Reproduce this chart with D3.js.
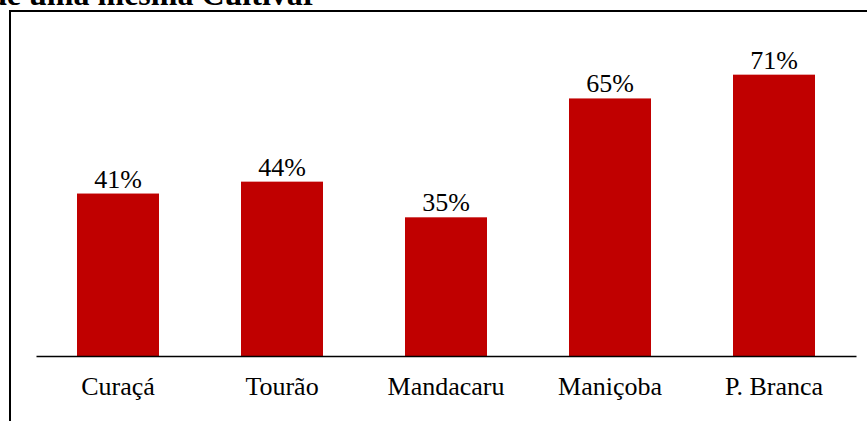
<!DOCTYPE html>
<html>
<head>
<meta charset="utf-8">
<script src="https://cdn.jsdelivr.net/npm/d3@7"></script>
<style>
  body { margin: 0; background: #fff; }
</style>
</head>
<body>
<svg id="canvas" width="867" height="421"></svg>
<script>
var categories = ['Curaçá', 'Tourão', 'Mandacaru', 'Maniçoba', 'P. Branca'];
var values = [41, 44, 35, 65, 71];
var valueLabels = ['41%', '44%', '35%', '65%', '71%'];

var serif = '"Liberation Serif", "Times New Roman", Times, serif';

var svg = d3.select('#canvas');

// frame around the chart area
svg.append('rect')
    .attr('x', 10)
    .attr('y', 11)
    .attr('width', 870)
    .attr('height', 420)
    .attr('fill', 'none')
    .attr('stroke', '#000')
    .attr('stroke-width', 2);

// title, cut off at the top of the picture
svg.append('text')
    .attr('x', 317)
    .attr('y', 5)
    .attr('text-anchor', 'end')
    .attr('font-family', serif)
    .attr('font-size', 32)
    .attr('font-weight', 'bold')
    .text('de uma mesma Cultivar');

var x = d3.scaleBand()
    .domain(categories)
    .range([36, 856])
    .paddingInner(0.5)
    .paddingOuter(0.25);

var y = d3.scaleLinear()
    .domain([0, 80])
    .range([356, 39]);

var data = categories.map(function(c, i) {
    return { cat: c, v: values[i], label: valueLabels[i] };
});

svg.selectAll('rect.bar')
    .data(data)
    .enter()
    .append('rect')
    .attr('class', 'bar')
    .attr('x', function(d) { return x(d.cat); })
    .attr('y', function(d) { return y(d.v); })
    .attr('width', x.bandwidth())
    .attr('height', function(d) { return y(0) - y(d.v); })
    .attr('fill', '#C00000');

svg.selectAll('text.val')
    .data(data)
    .enter()
    .append('text')
    .attr('class', 'val')
    .attr('x', function(d) { return x(d.cat) + x.bandwidth() / 2; })
    .attr('y', function(d) { return y(d.v) - 6; })
    .attr('text-anchor', 'middle')
    .attr('font-family', serif)
    .attr('font-size', 26)
    .text(function(d) { return d.label; });

// category axis
var axis = svg.append('g')
    .attr('transform', 'translate(0,' + y(0) + ')')
    .call(d3.axisBottom(x).tickSize(0).tickPadding(0));

axis.select('.domain')
    .attr('stroke', '#000')
    .attr('stroke-width', 1.5);

axis.selectAll('.tick text')
    .attr('dy', 0)
    .attr('y', 39)
    .attr('fill', '#000')
    .attr('font-size', 26)
    .attr('font-family', serif);
</script>
</body>
</html>
